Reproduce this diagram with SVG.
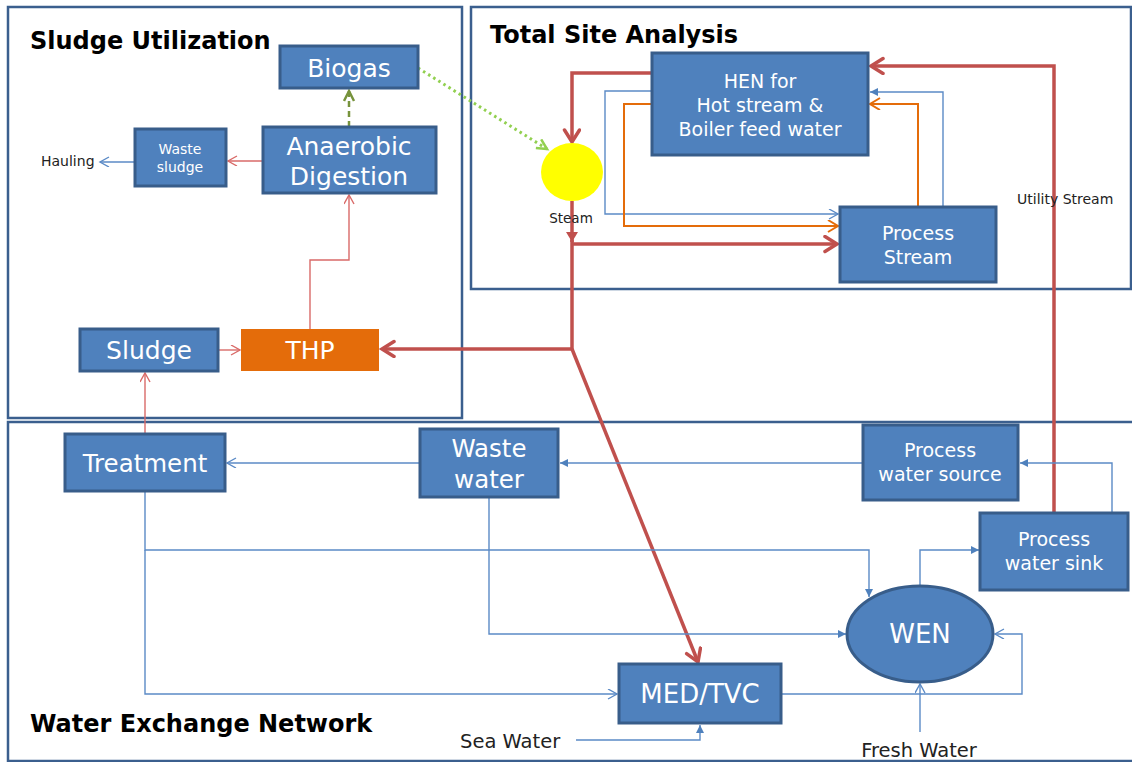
<svg xmlns="http://www.w3.org/2000/svg" width="1132" height="762" viewBox="0 0 1132 762">
  <style>
    .panel { fill: none; stroke: #3b5f8e; stroke-width: 2.5; }
    .box { fill: #4f81bd; stroke: #385d8a; stroke-width: 3; }
    .lbl { font-family: "DejaVu Sans", "Noto Sans", sans-serif; fill: #ffffff; text-anchor: middle; }
    .title { font-family: "DejaVu Sans", "Noto Sans", sans-serif; font-weight: bold; font-size: 24px; fill: #000000; }
    .note { font-family: "DejaVu Sans", "Noto Sans", sans-serif; fill: #222222; }
    .thinblue { fill: none; stroke: #5b8ac6; stroke-width: 1.4; }
    .thinred { fill: none; stroke: #d96a68; stroke-width: 1.4; }
    .thick { fill: none; stroke: #c0504d; stroke-width: 3.5; }
    .orange { fill: none; stroke: #e46c0a; stroke-width: 2; }
  </style>
  <defs>
    <marker id="openBlue" markerUnits="userSpaceOnUse" markerWidth="12" markerHeight="12" refX="10" refY="5" orient="auto">
      <path d="M1,0 L10,5 L1,10" fill="none" stroke="#5b8ac6" stroke-width="1.4"/>
    </marker>
    <marker id="fillBlue" markerUnits="userSpaceOnUse" markerWidth="10" markerHeight="10" refX="8" refY="4" orient="auto">
      <path d="M0,0 L8,4 L0,8 Z" fill="#4f81bd"/>
    </marker>
    <marker id="openRed" markerUnits="userSpaceOnUse" markerWidth="12" markerHeight="12" refX="10" refY="5" orient="auto">
      <path d="M1,0 L10,5 L1,10" fill="none" stroke="#d96a68" stroke-width="1.4"/>
    </marker>
    <marker id="openGreen" markerUnits="userSpaceOnUse" markerWidth="14" markerHeight="14" refX="11" refY="6" orient="auto">
      <path d="M1,1 L11,6 L1,11" fill="none" stroke="#77933c" stroke-width="2.5"/>
    </marker>
    <marker id="openLime" markerUnits="userSpaceOnUse" markerWidth="14" markerHeight="14" refX="11" refY="6" orient="auto">
      <path d="M1,1 L11,6 L1,11" fill="none" stroke="#92d050" stroke-width="2.5"/>
    </marker>
    <marker id="openOrange" markerUnits="userSpaceOnUse" markerWidth="14" markerHeight="14" refX="11" refY="6" orient="auto">
      <path d="M1,0 L11,6 L1,12" fill="none" stroke="#e46c0a" stroke-width="2"/>
    </marker>
    <marker id="thickHead" markerUnits="userSpaceOnUse" markerWidth="20" markerHeight="20" refX="15" refY="9" orient="auto">
      <path d="M3,1.5 L15,9 L3,16.5" fill="none" stroke="#c0504d" stroke-width="3.5" stroke-linecap="round"/>
    </marker>
    <marker id="thickFill" markerUnits="userSpaceOnUse" markerWidth="14" markerHeight="14" refX="10" refY="6" orient="auto">
      <path d="M0,0 L10,6 L0,12 Z" fill="#c0504d"/>
    </marker>
  </defs>

  <rect width="1132" height="762" fill="#ffffff"/>

  <!-- section frames -->
  <g id="panels">
    <rect class="panel" x="8" y="7" width="454" height="411"/>
    <rect class="panel" x="471" y="7" width="660" height="282"/>
    <rect class="panel" x="8" y="422" width="1135" height="339"/>
    <text class="title" x="30" y="49">Sludge Utilization</text>
    <text class="title" x="490" y="43">Total Site Analysis</text>
    <text class="title" x="30" y="732">Water Exchange Network</text>
  </g>

  <!-- flows -->
  <g id="connectors">
    <!-- sludge side -->
    <path class="thinred" d="M263,161 L228,161" marker-end="url(#openRed)"/>
    <path class="thinblue" d="M135,162 L100,162" marker-end="url(#openBlue)"/>
    <path class="thinred" d="M310,329 L310,260 L349,260 L349,195" marker-end="url(#openRed)"/>
    <path class="thinred" d="M218,350 L240,350" marker-end="url(#openRed)"/>
    <path class="thinred" d="M145,434 L145,373" marker-end="url(#openRed)"/>
    <path d="M349,127 L349,91" fill="none" stroke="#77933c" stroke-width="2.5" stroke-dasharray="6,4" marker-end="url(#openGreen)"/>
    <path d="M418,68 L547,149" fill="none" stroke="#92d050" stroke-width="3" stroke-dasharray="2.5,3.5" marker-end="url(#openLime)"/>

    <!-- site heat network -->
    <path class="thinblue" d="M652,91 L605,91 L605,214 L838,214" marker-end="url(#openBlue)"/>
    <path class="thinblue" d="M943,207 L943,92 L870,92" marker-end="url(#fillBlue)"/>
    <path class="orange" d="M652,104 L624,104 L624,226 L838,226" marker-end="url(#openOrange)"/>
    <path class="orange" d="M918,207 L918,104 L870,104" marker-end="url(#openOrange)"/>

    <!-- steam / utility trunk -->
    <path class="thick" d="M652,73 L572,73 L572,142" marker-end="url(#thickHead)"/>
    <path class="thick" d="M572,201 L572,242" marker-end="url(#thickFill)"/>
    <path class="thick" d="M572,240 L572,349"/>
    <path class="thick" d="M572,244 L837,244" marker-end="url(#thickHead)"/>
    <path class="thick" d="M572,349 L382,349" marker-end="url(#thickHead)"/>
    <path class="thick" d="M572,349 L698,662" marker-end="url(#thickHead)"/>
    <path class="thick" d="M1054,513 L1054,66 L871,66" marker-end="url(#thickHead)"/>

    <!-- water network -->
    <path class="thinblue" d="M863,463 L560,463" marker-end="url(#fillBlue)"/>
    <path class="thinblue" d="M420,463 L227,463" marker-end="url(#openBlue)"/>
    <path class="thinblue" d="M1112,513 L1112,463 L1020,463" marker-end="url(#fillBlue)"/>
    <path class="thinblue" d="M145,491 L145,550 L869,550 L869,597" marker-end="url(#fillBlue)"/>
    <path class="thinblue" d="M145,550 L145,694 L617,694" marker-end="url(#openBlue)"/>
    <path class="thinblue" d="M489,497 L489,634 L846,634" marker-end="url(#fillBlue)"/>
    <path class="thinblue" d="M920,586 L920,550 L979,550" marker-end="url(#fillBlue)"/>
    <path class="thinblue" d="M781,694 L1022,694 L1022,634 L995,634" marker-end="url(#openBlue)"/>
    <path class="thinblue" d="M920,732 L920,684" marker-end="url(#openBlue)"/>
    <path class="thinblue" d="M576,740 L700,740 L700,725" marker-end="url(#fillBlue)"/>
  </g>

  <!-- sludge utilization nodes -->
  <g id="biogas">
    <rect class="box" x="280" y="46" width="138" height="42"/>
    <text class="lbl" x="349" y="77" font-size="25">Biogas</text>
  </g>
  <g id="anaerobic-digestion">
    <rect class="box" x="263" y="127" width="173" height="66"/>
    <text class="lbl" x="349" y="155" font-size="25">Anaerobic</text>
    <text class="lbl" x="349" y="185" font-size="25">Digestion</text>
  </g>
  <g id="waste-sludge">
    <rect class="box" x="135" y="129" width="91" height="57"/>
    <text class="lbl" x="180" y="154" font-size="14">Waste</text>
    <text class="lbl" x="180" y="172" font-size="14">sludge</text>
  </g>
  <g id="hauling">
    <text class="note" x="41" y="166" font-size="14">Hauling</text>
  </g>
  <g id="sludge">
    <rect class="box" x="80" y="329" width="138" height="42"/>
    <text class="lbl" x="149" y="359" font-size="25">Sludge</text>
  </g>
  <g id="thp">
    <rect x="241" y="329" width="138" height="42" fill="#e46c0a"/>
    <text class="lbl" x="310" y="359" font-size="25">THP</text>
  </g>

  <!-- total site nodes -->
  <g id="hen">
    <rect class="box" x="652" y="53" width="216" height="102"/>
    <text class="lbl" x="760" y="88" font-size="19">HEN for</text>
    <text class="lbl" x="760" y="112" font-size="19">Hot stream &amp;</text>
    <text class="lbl" x="760" y="136" font-size="19">Boiler feed water</text>
  </g>
  <g id="process-stream">
    <rect class="box" x="840" y="207" width="156" height="75"/>
    <text class="lbl" x="918" y="240" font-size="19">Process</text>
    <text class="lbl" x="918" y="264" font-size="19">Stream</text>
  </g>
  <g id="steam">
    <ellipse cx="572" cy="172" rx="31" ry="29" fill="#ffff00"/>
    <text class="note" x="571" y="223" font-size="13.5" text-anchor="middle">Steam</text>
  </g>
  <g id="utility-stream">
    <text class="note" x="1017" y="204" font-size="14">Utility Stream</text>
  </g>

  <!-- water network nodes -->
  <g id="treatment">
    <rect class="box" x="65" y="434" width="160" height="57"/>
    <text class="lbl" x="145" y="472" font-size="24.5">Treatment</text>
  </g>
  <g id="waste-water">
    <rect class="box" x="420" y="429" width="138" height="68"/>
    <text class="lbl" x="489" y="457" font-size="24.5">Waste</text>
    <text class="lbl" x="489" y="488" font-size="24.5">water</text>
  </g>
  <g id="process-water-source">
    <rect class="box" x="863" y="425" width="155" height="75"/>
    <text class="lbl" x="940" y="457" font-size="19">Process</text>
    <text class="lbl" x="940" y="481" font-size="19">water source</text>
  </g>
  <g id="process-water-sink">
    <rect class="box" x="980" y="513" width="148" height="77"/>
    <text class="lbl" x="1054" y="546" font-size="19">Process</text>
    <text class="lbl" x="1054" y="570" font-size="19">water sink</text>
  </g>
  <g id="wen">
    <ellipse class="box" cx="920" cy="634" rx="73" ry="48"/>
    <text class="lbl" x="920" y="643" font-size="26">WEN</text>
  </g>
  <g id="med-tvc">
    <rect class="box" x="619" y="664" width="162" height="59"/>
    <text class="lbl" x="700" y="703" font-size="26">MED/TVC</text>
  </g>
  <g id="sea-water">
    <text class="note" x="460" y="748" font-size="19.5">Sea Water</text>
  </g>
  <g id="fresh-water">
    <text class="note" x="919" y="757" font-size="19.5" text-anchor="middle">Fresh Water</text>
  </g>
</svg>
